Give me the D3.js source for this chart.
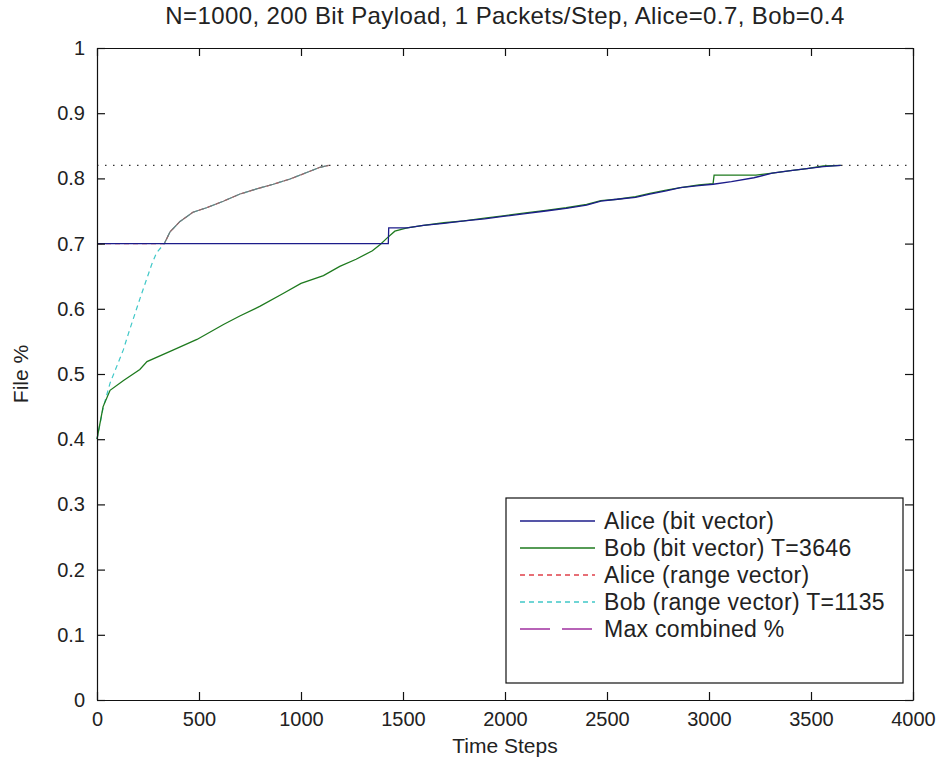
<!DOCTYPE html>
<html>
<head>
<meta charset="utf-8">
<script src="https://cdn.jsdelivr.net/npm/d3@7"></script>
<style>
  body { margin: 0; background: #fff; }
  text { font-family: 'Liberation Sans', Arial, sans-serif; fill: #222; }
</style>
</head>
<body>
<div id="chart"></div>
<script>
// values
const xTicks = [0, 500, 1000, 1500, 2000, 2500, 3000, 3500, 4000];
const yTicks = [0, 0.1, 0.2, 0.3, 0.4, 0.5, 0.6, 0.7, 0.8, 0.9, 1];

const aliceBitT = [0, 1428, 1430, 1520, 1600, 1700, 1800, 1900, 2000, 2100, 2200, 2300, 2400, 2470, 2550, 2640, 2710, 2790, 2860, 2950, 3020, 3110, 3220, 3310, 3400, 3480, 3560, 3646];
const aliceBitV = [0.70, 0.70, 0.724, 0.724, 0.728, 0.731, 0.735, 0.738, 0.742, 0.746, 0.750, 0.754, 0.759, 0.765, 0.768, 0.771, 0.776, 0.781, 0.786, 0.789, 0.791, 0.795, 0.801, 0.808, 0.812, 0.815, 0.818, 0.82];

const bobBitT = [0, 30, 64, 130, 210, 245, 375, 490, 620, 700, 800, 910, 1000, 1110, 1190, 1270, 1350, 1390, 1420, 1460, 1520, 1600, 1700, 1800, 1900, 2000, 2100, 2200, 2300, 2400, 2470, 2550, 2640, 2710, 2790, 2860, 2950, 3020, 3025, 3230, 3310, 3400, 3480, 3560, 3646];
const bobBitV = [0.40, 0.45, 0.475, 0.49, 0.507, 0.519, 0.537, 0.553, 0.576, 0.589, 0.604, 0.623, 0.639, 0.651, 0.665, 0.676, 0.689, 0.699, 0.708, 0.719, 0.724, 0.728, 0.732, 0.735, 0.739, 0.743, 0.747, 0.751, 0.755, 0.760, 0.766, 0.768, 0.772, 0.777, 0.782, 0.786, 0.790, 0.792, 0.805, 0.805, 0.808, 0.812, 0.815, 0.819, 0.82];

const aliceRangeT = [0, 330, 358, 407, 470, 537, 619, 701, 783, 864, 946, 1028, 1093, 1135];
const aliceRangeV = [0.70, 0.70, 0.718, 0.734, 0.748, 0.755, 0.765, 0.776, 0.784, 0.791, 0.799, 0.809, 0.817, 0.82];

const bobRangeT = [0, 30, 64, 129, 154, 211, 268, 292, 330, 358, 407, 470, 537, 619, 701, 783, 864, 946, 1028, 1093, 1135];
const bobRangeV = [0.40, 0.448, 0.486, 0.537, 0.562, 0.616, 0.668, 0.686, 0.70, 0.718, 0.734, 0.748, 0.755, 0.765, 0.776, 0.784, 0.791, 0.799, 0.809, 0.817, 0.82];

const maxCombined = 0.82;

const seriesNames = ['Alice (bit vector)', 'Bob (bit vector) T=3646', 'Alice (range vector)', 'Bob (range vector) T=1135', 'Max combined %'];
const seriesColors = ['#1c1c8a', '#1e7a1e', '#e0404a', '#40c8c8', '#a030a0'];
const seriesDash = [null, null, '5,4', '5,4', '30,12'];

const width = 943, height = 761;
const margin = {top: 48, right: 30, bottom: 61, left: 97};

const svg = d3.select('#chart').append('svg')
  .attr('width', width)
  .attr('height', height);

const x = d3.scaleLinear().domain([0, 4000]).range([margin.left, width - margin.right]);
const y = d3.scaleLinear().domain([0, 1]).range([height - margin.bottom, margin.top]);

function zip(ts, vs) { return ts.map(function(t, i) { return [t, vs[i]]; }); }

const line = d3.line()
  .x(function(d) { return x(d[0]); })
  .y(function(d) { return y(d[1]); });

// max combined line
svg.append('path')
  .attr('d', line([[0, maxCombined], [4000, maxCombined]]))
  .attr('fill', 'none')
  .attr('stroke', '#333')
  .attr('stroke-width', 1.3)
  .attr('stroke-dasharray', '1.5,6.5');

// range vector curves
svg.append('path')
  .attr('d', line(zip(aliceRangeT, aliceRangeV)))
  .attr('fill', 'none')
  .attr('stroke', seriesColors[2])
  .attr('stroke-width', 1.2)
  .attr('stroke-dasharray', '5,4');

svg.append('path')
  .attr('d', line(zip(bobRangeT, bobRangeV)))
  .attr('fill', 'none')
  .attr('stroke', seriesColors[3])
  .attr('stroke-width', 1.2)
  .attr('stroke-dasharray', '5,4');

// shared part of both range curves looks grey
svg.append('path')
  .attr('d', line(zip(aliceRangeT.slice(1), aliceRangeV.slice(1))))
  .attr('fill', 'none')
  .attr('stroke', '#777')
  .attr('stroke-width', 1.2);

svg.append('path')
  .attr('d', line(zip(bobBitT, bobBitV)))
  .attr('fill', 'none')
  .attr('stroke', seriesColors[1])
  .attr('stroke-width', 1.3);

svg.append('path')
  .attr('d', line(zip(aliceBitT, aliceBitV)))
  .attr('fill', 'none')
  .attr('stroke', seriesColors[0])
  .attr('stroke-width', 1.3);

// axes with inward ticks, box
const fs = 20;
svg.append('g')
  .attr('transform', 'translate(0,' + y(0) + ')')
  .call(d3.axisBottom(x).tickValues(xTicks).tickSizeInner(-8).tickSizeOuter(0).tickPadding(12).tickFormat(d3.format('d')));
svg.append('g')
  .attr('transform', 'translate(' + x(0) + ',0)')
  .call(d3.axisLeft(y).tickValues(yTicks).tickSizeInner(-8).tickSizeOuter(0).tickPadding(12).tickFormat(function(d) { return d3.format('')(+d.toFixed(1)); }));
svg.append('g')
  .attr('transform', 'translate(0,' + y(1) + ')')
  .call(d3.axisTop(x).tickValues(xTicks).tickSizeInner(-8).tickSizeOuter(0).tickFormat(''));
svg.append('g')
  .attr('transform', 'translate(' + x(4000) + ',0)')
  .call(d3.axisRight(y).tickValues(yTicks).tickSizeInner(-8).tickSizeOuter(0).tickFormat(''));

svg.selectAll('.domain').attr('stroke', '#111').attr('stroke-width', 1.2);
svg.selectAll('.tick line').attr('stroke', '#111').attr('stroke-width', 1.2);
svg.selectAll('.tick text').attr('font-size', fs).attr('font-family', 'Liberation Sans').attr('fill', '#222');

// titles
svg.append('text')
  .attr('x', (x(0) + x(4000)) / 2)
  .attr('y', 24)
  .attr('text-anchor', 'middle')
  .attr('font-size', 24)
  .attr('letter-spacing', 0.4)
  .text('N=1000, 200 Bit Payload, 1 Packets/Step, Alice=0.7, Bob=0.4');

svg.append('text')
  .attr('x', (x(0) + x(4000)) / 2)
  .attr('y', 753)
  .attr('text-anchor', 'middle')
  .attr('font-size', 21)
  .text('Time Steps');

svg.append('text')
  .attr('transform', 'translate(28,' + y(0.5) + ') rotate(-90)')
  .attr('text-anchor', 'middle')
  .attr('font-size', 21)
  .text('File %');

// legend
const lg = svg.append('g').attr('transform', 'translate(506,498)');
lg.append('rect')
  .attr('width', 397)
  .attr('height', 185)
  .attr('fill', '#fff')
  .attr('stroke', '#111')
  .attr('stroke-width', 1.2);

for (let i = 0; i < seriesNames.length; i++) {
  const ly = 23 + i * 27;
  lg.append('line')
    .attr('x1', 14).attr('x2', 89)
    .attr('y1', ly).attr('y2', ly)
    .attr('stroke', seriesColors[i])
    .attr('stroke-width', 1.3)
    .attr('stroke-dasharray', seriesDash[i]);
  lg.append('text')
    .attr('x', 98)
    .attr('y', ly + 8)
    .attr('font-size', 23)
    .attr('letter-spacing', 0.3)
    .text(seriesNames[i]);
}
</script>
</body>
</html>
